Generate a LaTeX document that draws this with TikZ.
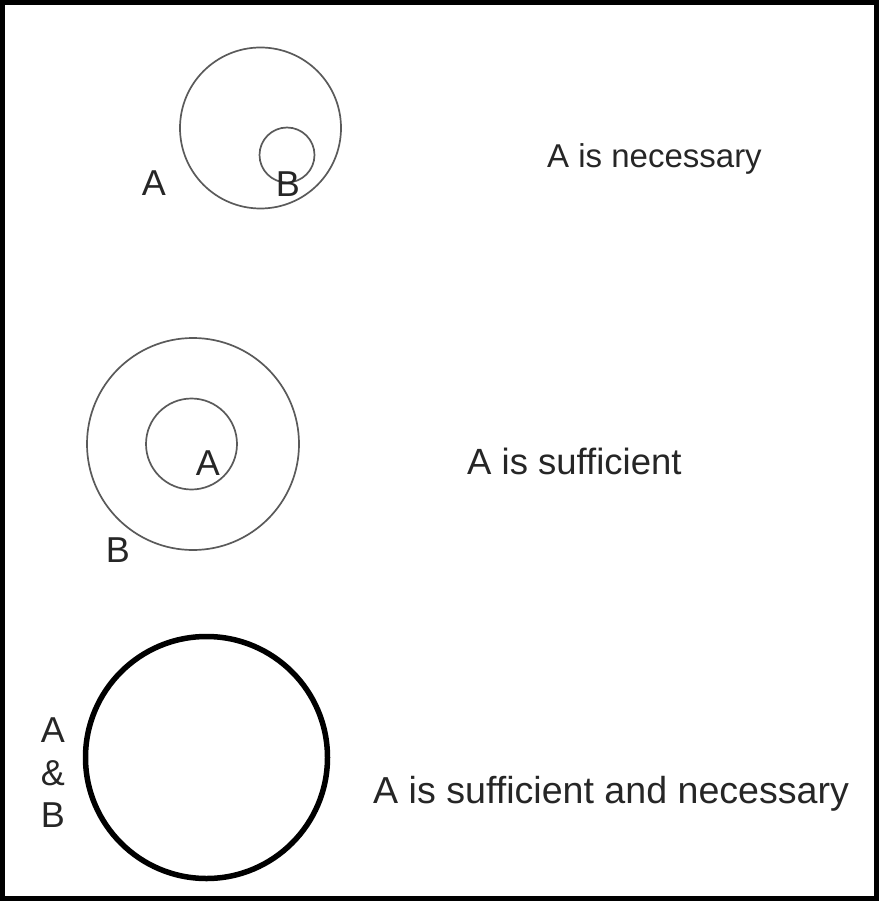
\documentclass[tikz,border=0pt]{standalone}
\usepackage{fontspec}
\setmainfont{Liberation Sans}
\usetikzlibrary{positioning,shapes}
\definecolor{linegray}{HTML}{5A5A5A}
\definecolor{textgray}{HTML}{262626}
\tikzstyle{set}=[circle, draw=linegray, line width=1.7pt, inner sep=0pt]
\tikzstyle{joint}=[circle, draw=black, line width=5.5pt, inner sep=0pt]
\tikzstyle{setlabel}=[text=textgray, font=\fontsize{36}{42.5}\selectfont, inner sep=0pt, anchor=base]
\tikzstyle{caption}=[text=textgray, font=\fontsize{35}{42}\selectfont, inner sep=0pt, anchor=base west]

\begin{document}
\begin{tikzpicture}[x=1pt, y=-1pt]
	\useasboundingbox (0,0) rectangle (879,901);
	\draw[line width=5pt] (2.5,2.5) rectangle (876.5,898.5);

	% A is necessary
	\node (OuterA) [set, minimum size=161pt] at (260.5,128) {};
	\node (InnerB) [set, minimum size=55pt] at (287,155) {};
	\node (LabelA1) [setlabel] at (154,196) {A};
	\node (LabelB1) [setlabel] at (288,197) {B};
	\node (Necessary) [caption, font=\fontsize{33}{40}\selectfont] at (547,168) {A is necessary};

	% A is sufficient
	\node (OuterB) [set, minimum size=212pt] at (193,444) {};
	\node (InnerA) [set, minimum size=91pt] at (191.5,444) {};
	\node (LabelA2) [setlabel] at (208,475) {A};
	\node (LabelB2) [setlabel] at (118,562) {B};
	\node (Sufficient) [caption, font=\fontsize{36.5}{44}\selectfont] at (467,474) {A is sufficient};

	% A is sufficient and necessary
	\node (Both) [joint, minimum size=242pt] at (206.5,757.5) {};
	\node (LabelAB) [setlabel, anchor=center, align=center] at (53,773) {A\\\&\\B};
	\node (SufficientNecessary) [caption, font=\fontsize{37.6}{45}\selectfont] at (373,803)
		{A is sufficient and necessary};

\end{tikzpicture}
\end{document}
